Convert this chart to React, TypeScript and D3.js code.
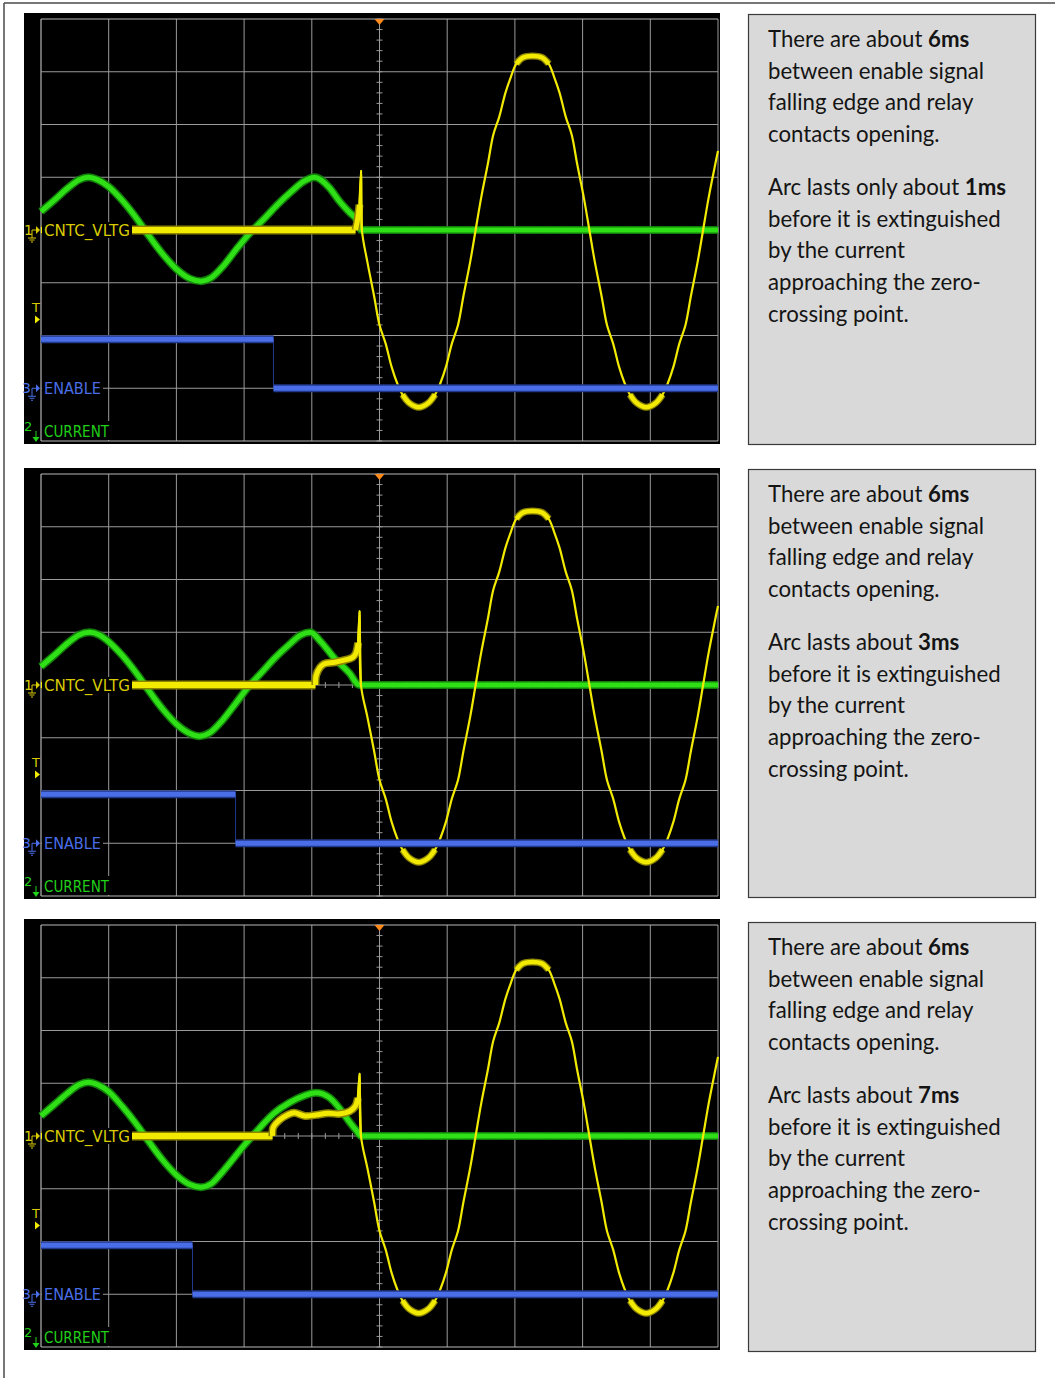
import React from 'react';
import * as d3 from 'd3';

type Pt = [number, number];

const W = 1055;
const H = 1378;

// time axis in ms (5 ms/div), vertical in divisions
const timeDomain: [number, number] = [-25, 25];
const divDomain: [number, number] = [-4, 4];
const timeGrid = d3.range(-25, 26, 5);
const divGrid = d3.range(-4, 5, 1);
const timeMinorTicks = d3.range(-25, 25.01, 1);
const divMinorTicks = d3.range(-4, 4.01, 0.2);

const panelTops = [13, 468, 919];

// ENABLE channel
const enableFallMs = [-7.83, -10.63, -13.81];
const enableHigh = -2.07;
const enableLow = -3.0;

// trigger level marker (divisions)
const triggerLevel = -1.6;

// CURRENT channel (green)
const current1: Pt[] = [
  [-25, 0.35], [-24, 0.57], [-23, 0.8], [-22.2, 0.95], [-21.5, 1.0], [-20.8, 0.95], [-20, 0.82],
  [-19, 0.56], [-18, 0.24], [-17, -0.12], [-16, -0.46], [-15, -0.74], [-14, -0.92], [-13.2, -0.97],
  [-12.4, -0.9], [-11.5, -0.67], [-10.5, -0.34], [-9.5, -0.04], [-8.5, 0.22], [-7.5, 0.49],
  [-6.5, 0.73], [-5.6, 0.92], [-4.8, 1.0], [-3.7, 0.8], [-3.0, 0.56], [-2.2, 0.33], [-1.7, 0.2],
  [-1.35, 0.0], [25, 0],
];
const current2: Pt[] = [
  [-25, 0.35], [-24, 0.57], [-23, 0.8], [-22.2, 0.95], [-21.4, 1.0], [-20.7, 0.95], [-20, 0.82],
  [-19, 0.56], [-18, 0.24], [-17, -0.12], [-16, -0.46], [-15, -0.74], [-14, -0.92], [-13.3, -0.97],
  [-12.5, -0.9], [-11.6, -0.67], [-10.6, -0.34], [-9.7, -0.04], [-8.7, 0.24], [-7.7, 0.52],
  [-6.7, 0.76], [-5.8, 0.95], [-5.1, 1.0], [-4.4, 0.84], [-3.3, 0.5], [-2.2, 0.22], [-1.5, 0.0], [25, 0],
];
const current3: Pt[] = [
  [-25, 0.38], [-24, 0.6], [-23, 0.82], [-22.2, 0.97], [-21.5, 1.02], [-20.8, 0.97], [-20, 0.84],
  [-19, 0.56], [-18, 0.24], [-17, -0.12], [-16, -0.46], [-15, -0.74], [-14, -0.92], [-13.2, -0.97],
  [-12.4, -0.9], [-11.5, -0.65], [-10.0, -0.18], [-8.9, 0.14], [-7.8, 0.43], [-6.6, 0.64],
  [-5.5, 0.77], [-4.7, 0.82], [-3.7, 0.73], [-3.0, 0.54], [-2.2, 0.26], [-1.7, 0.1], [-1.35, 0], [25, 0],
];

// CNTC_VLTG channel (yellow): closed contacts, arc, spike, then line voltage
const contactOpenMs = [-1.77, -4.73, -7.9];
const arc1: Pt[] = [[-1.77, 0], [-1.65, 0.15], [-1.55, 0.32], [-1.48, 0.48]];
const arc2: Pt[] = [
  [-4.73, 0], [-4.68, 0.18], [-4.4, 0.33], [-4.1, 0.4], [-3.3, 0.43], [-2.6, 0.47], [-2.0, 0.52],
  [-1.75, 0.6], [-1.58, 0.8],
];
const arc3: Pt[] = [
  [-7.9, 0], [-7.85, 0.16], [-7.4, 0.3], [-6.8, 0.4], [-6.3, 0.44], [-5.5, 0.38], [-4.7, 0.4],
  [-3.8, 0.43], [-2.9, 0.42], [-2.2, 0.47], [-1.8, 0.56], [-1.6, 0.72],
];
const spike1: Pt[] = [[-1.48, 0.48], [-1.36, 1.12], [-1.3, 0]];
const spike2: Pt[] = [[-1.58, 0.8], [-1.47, 1.4], [-1.37, 0]];
const spike3: Pt[] = [[-1.6, 0.72], [-1.47, 1.18], [-1.37, 0]];
const lineVoltage: Pt[] = [
  [-0.9, -0.6], [-0.4, -1.25], [0, -1.8], [0.45, -2.15], [0.9, -2.6], [1.3, -2.9], [1.7, -3.12],
  [2.2, -3.28], [2.9, -3.36], [3.6, -3.28], [4.1, -3.12], [4.5, -2.9], [4.9, -2.6], [5.35, -2.15],
  [5.8, -1.8], [6.2, -1.25], [6.7, -0.6], [7.1, 0], [7.5, 0.6], [8.0, 1.25], [8.4, 1.8],
  [8.85, 2.15], [9.3, 2.6], [9.7, 2.9], [10.1, 3.15], [10.6, 3.27], [11.3, 3.3], [12.0, 3.27],
  [12.5, 3.15], [12.9, 2.9], [13.3, 2.6], [13.75, 2.15], [14.2, 1.8], [14.6, 1.25], [15.1, 0.6],
  [15.5, 0], [15.9, -0.6], [16.4, -1.25], [16.8, -1.8], [17.25, -2.15], [17.7, -2.6], [18.1, -2.9],
  [18.5, -3.12], [19.0, -3.28], [19.7, -3.36], [20.4, -3.28], [20.9, -3.12], [21.3, -2.9], [21.7, -2.6],
  [22.15, -2.15], [22.6, -1.8], [23.0, -1.25], [23.5, -0.6], [23.9, 0], [24.3, 0.6], [24.8, 1.25],
  [25, 1.5],
];

const currents = [current1, current2, current3];
const arcs = [arc1, arc2, arc3];
const spikes = [spike1, spike2, spike3];

// text boxes
const boxTops = [14, 469, 922];
const boxHeights = [430, 428, 429];
const arcDurations = ['1ms', '3ms', '7ms'];
const arcLeads = ['Arc lasts only about ', 'Arc lasts about ', 'Arc lasts about '];
const paraOne = ['between enable signal', 'falling edge and relay', 'contacts opening.'];
const paraTwo = ['before it is extinguished', 'by the current', 'approaching the zero-', 'crossing point.'];

const YELLOW = '#f2ea00';
const YELLOW_DIM = '#8c8400';
const YELLOW_TXT = '#d8cc00';
const GREEN = '#2fe016';
const GREEN_DIM = '#138a0a';
const GREEN_TXT = '#22d01a';
const BLUE = '#4a6ee8';
const BLUE_DIM = '#22388a';
const GRID = '#9a9a9a';

const x = d3.scaleLinear().domain(timeDomain).range([41, 718]);

function Panel({ idx }: { idx: number }) {
  const top = panelTops[idx];
  const gTop = top + 6;
  const gBot = gTop + 422;
  const y = d3.scaleLinear().domain(divDomain).range([gBot, gTop]);
  const smooth = d3.line<Pt>().x((d) => x(d[0])).y((d) => y(d[1])).curve(d3.curveCatmullRom.alpha(0.5));
  const mono = d3.line<Pt>().x((d) => x(d[0])).y((d) => y(d[1])).curve(d3.curveMonotoneX);
  const straight = d3.line<Pt>().x((d) => x(d[0])).y((d) => y(d[1]));
  const plateau = d3
    .line<Pt>()
    .x((d) => x(d[0]))
    .y((d) => y(d[1]))
    .defined((d) => Math.abs(d[1]) >= 3.1)
    .curve(d3.curveCatmullRom.alpha(0.5));

  const cur = currents[idx];
  const arc = arcs[idx];
  const spike = spikes[idx];
  const openT = contactOpenMs[idx];
  const flat: Pt[] = [[-25, 0], [openT, 0]];
  const thin: Pt[] = [...spike, ...lineVoltage];
  const fall = enableFallMs[idx];
  const y0 = y(0);
  const cx = x(0);
  const yT = y(triggerLevel);
  const yE = y(enableLow);
  const mono12 = 'DejaVu Sans';

  return (
    <g>
      <rect x={24} y={top} width={696} height={431} fill="#000" />
      {/* grid */}
      {timeGrid.map((t) => (
        <line key={'v' + t} x1={x(t)} x2={x(t)} y1={gTop} y2={gBot} stroke={t === -25 ? '#d8d8d8' : GRID} strokeWidth={1} />
      ))}
      {divGrid.map((v) => (
        <line key={'h' + v} x1={x(-25)} x2={x(25)} y1={y(v)} y2={y(v)} stroke={v === 4 || v === -4 ? '#b8b8b8' : GRID} strokeWidth={1} />
      ))}
      {divMinorTicks.map((v) => (
        <line key={'mv' + v} x1={cx - 3} x2={cx + 3} y1={y(v)} y2={y(v)} stroke={GRID} strokeWidth={1} />
      ))}
      {timeMinorTicks.map((t) => (
        <line key={'mt' + t} x1={x(t)} x2={x(t)} y1={y0 - 3} y2={y0 + 3} stroke={GRID} strokeWidth={1} />
      ))}

      {/* current (green) */}
      <path d={mono(cur) || ''} fill="none" stroke={GREEN_DIM} strokeWidth={8} strokeLinejoin="round" opacity={0.9} />
      <path d={mono(cur) || ''} fill="none" stroke={GREEN} strokeWidth={5} strokeLinejoin="round" />

      {/* contact voltage (yellow) */}
      <path d={straight(flat) || ''} fill="none" stroke={YELLOW_DIM} strokeWidth={9} />
      <path d={straight(flat) || ''} fill="none" stroke={YELLOW} strokeWidth={6} />
      <path d={smooth(arc) || ''} fill="none" stroke={YELLOW_DIM} strokeWidth={8} strokeLinejoin="round" />
      <path d={smooth(arc) || ''} fill="none" stroke={YELLOW} strokeWidth={5} strokeLinejoin="round" />
      <path d={straight(spike) || ''} fill="none" stroke={YELLOW} strokeWidth={2} strokeLinejoin="round" />
      <path d={smooth(thin) || ''} fill="none" stroke={YELLOW} strokeWidth={2.2} strokeLinejoin="round" />
      <path d={plateau(lineVoltage) || ''} fill="none" stroke={YELLOW_DIM} strokeWidth={7} strokeLinecap="butt" />
      <path d={plateau(lineVoltage) || ''} fill="none" stroke={YELLOW} strokeWidth={4.5} strokeLinecap="butt" />

      {/* enable (blue) */}
      <line x1={x(fall)} x2={x(fall)} y1={y(enableHigh)} y2={yE} stroke={BLUE_DIM} strokeWidth={1} />
      <line x1={x(-25)} x2={x(fall)} y1={y(enableHigh)} y2={y(enableHigh)} stroke={BLUE_DIM} strokeWidth={8} />
      <line x1={x(-25)} x2={x(fall)} y1={y(enableHigh)} y2={y(enableHigh)} stroke={BLUE} strokeWidth={5} />
      <line x1={x(fall)} x2={x(25)} y1={yE} y2={yE} stroke={BLUE_DIM} strokeWidth={8} />
      <line x1={x(fall)} x2={x(25)} y1={yE} y2={yE} stroke={BLUE} strokeWidth={5} />

      {/* trigger marker */}
      <path d={`M${cx - 5},${gTop} L${cx + 5},${gTop} L${cx},${gTop + 6} Z`} fill="#ff8a1c" />

      {/* channel labels */}
      <rect x={42} y={y0 - 8} width={90} height={16} fill="#000" />
      <text x={44} y={y0 + 6} fill={YELLOW_TXT} fontFamily={mono12} fontSize={16} textLength={86} lengthAdjust="spacingAndGlyphs">CNTC_VLTG</text>
      <rect x={42} y={yE - 8} width={61} height={16} fill="#000" />
      <text x={44} y={yE + 6} fill={BLUE} fontFamily={mono12} fontSize={16} textLength={57} lengthAdjust="spacingAndGlyphs">ENABLE</text>
      <rect x={42} y={gBot - 20} width={70} height={19} fill="#000" />
      <text x={44} y={gBot - 4} fill={GREEN_TXT} fontFamily={mono12} fontSize={16} textLength={65} lengthAdjust="spacingAndGlyphs">CURRENT</text>

      {/* left markers */}
      <text x={24} y={y0 + 5} fill={YELLOW_TXT} fontFamily={mono12} fontSize={14}>1</text>
      <path d={`M${32},${y0} L${32},${y0 + 8} M${32},${y0} L${36},${y0}`} stroke={YELLOW_TXT} strokeWidth={1} fill="none" />
      <path d={`M${36},${y0 - 4} L${40},${y0} L${36},${y0 + 4} Z`} fill={YELLOW_TXT} />
      <path d={`M${28},${y0 + 8} L${36},${y0 + 8} M${29.5},${y0 + 10} L${34.5},${y0 + 10} M${31},${y0 + 12} L${33},${y0 + 12}`} stroke={YELLOW_TXT} strokeWidth={1} />

      <text x={32} y={yT - 2} fill={YELLOW_TXT} fontFamily={mono12} fontSize={13}>T</text>
      <path d={`M${35},${yT + 1} L${40},${yT + 5} L${35},${yT + 9} Z`} fill={YELLOW} />

      <text x={22} y={yE + 5} fill={BLUE} fontFamily={mono12} fontSize={14}>3</text>
      <path d={`M${32},${yE} L${32},${yE + 8} M${32},${yE} L${36},${yE}`} stroke={BLUE} strokeWidth={1} fill="none" />
      <path d={`M${36},${yE - 4} L${40},${yE} L${36},${yE + 4} Z`} fill={BLUE} />
      <path d={`M${28},${yE + 8} L${36},${yE + 8} M${29.5},${yE + 10} L${34.5},${yE + 10} M${31},${yE + 12} L${33},${yE + 12}`} stroke={BLUE} strokeWidth={1} />

      <text x={24} y={gBot - 10} fill={GREEN_TXT} fontFamily={mono12} fontSize={13}>2</text>
      <path d={`M${36},${gBot - 10} L${36},${gBot - 3}`} stroke={GREEN_TXT} strokeWidth={1} />
      <path d={`M${32.5},${gBot - 4} L${39.5},${gBot - 4} L${36},${gBot + 1} Z`} fill={GREEN_TXT} />
    </g>
  );
}

function TextBox({ idx }: { idx: number }) {
  const top = boxTops[idx];
  const lh = 31.7;
  const b1 = top + 33;
  const b2 = top + 181;
  const font = { fontFamily: 'Lato, "Open Sans", sans-serif', fontSize: 22.2, fill: '#141414' };
  return (
    <g>
      <rect x={748.5} y={top + 0.5} width={287} height={boxHeights[idx]} fill="#d9d9d9" stroke="#3a3a3a" strokeWidth={1.2} />
      <text x={768} y={b1} {...font}>
        There are about <tspan fontWeight="bold">6ms</tspan>
      </text>
      {paraOne.map((s, i) => (
        <text key={s} x={768} y={b1 + lh * (i + 1)} {...font}>{s}</text>
      ))}
      <text x={768} y={b2} {...font}>
        {arcLeads[idx]}<tspan fontWeight="bold">{arcDurations[idx]}</tspan>
      </text>
      {paraTwo.map((s, i) => (
        <text key={s} x={768} y={b2 + lh * (i + 1)} {...font}>{s}</text>
      ))}
    </g>
  );
}

export default function App() {
  return (
    <svg width={W} height={H} style={{ position: 'absolute', left: 0, top: 0, display: 'block', background: '#fff' }}>
      <line x1={4} y1={3} x2={4} y2={H} stroke="#4a4a4a" strokeWidth={1.5} />
      <line x1={4} y1={3} x2={W} y2={3} stroke="#4a4a4a" strokeWidth={1.5} />
      {panelTops.map((_, i) => (
        <Panel key={i} idx={i} />
      ))}
      {boxTops.map((_, i) => (
        <TextBox key={i} idx={i} />
      ))}
    </svg>
  );
}
